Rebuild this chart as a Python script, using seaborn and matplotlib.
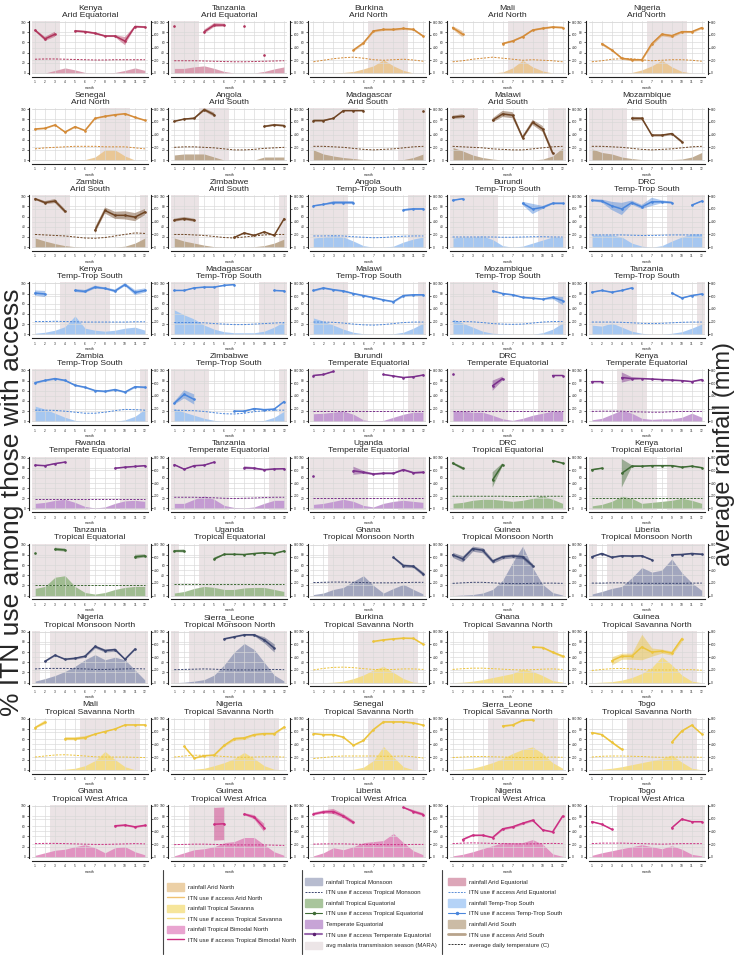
import numpy as np
import matplotlib
matplotlib.use("Agg")
import matplotlib.pyplot as plt
import seaborn as sns
from matplotlib.patches import Patch
from matplotlib.lines import Line2D

nan = np.nan
months = list(range(1, 13))
month_labels = [str(m) for m in months]

countries = [
    "Kenya", "Tanzania", "Burkina", "Mali", "Nigeria",
    "Senegal", "Angola", "Madagascar", "Malawi", "Mozambique",
    "Zambia", "Zimbabwe", "Angola", "Burundi", "DRC",
    "Kenya", "Madagascar", "Malawi", "Mozambique", "Tanzania",
    "Zambia", "Zimbabwe", "Burundi", "DRC", "Kenya",
    "Rwanda", "Tanzania", "Uganda", "DRC", "Kenya",
    "Tanzania", "Uganda", "Ghana", "Guinea", "Liberia",
    "Nigeria", "Sierra_Leone", "Burkina", "Ghana", "Guinea",
    "Mali", "Nigeria", "Senegal", "Sierra_Leone", "Togo",
    "Ghana", "Guinea", "Liberia", "Nigeria", "Togo",
]
zones = (
    ["Arid Equatorial"] * 2 + ["Arid North"] * 4 + ["Arid South"] * 6
    + ["Temp-Trop South"] * 10 + ["Temperate Equatorial"] * 6
    + ["Tropical Equatorial"] * 4 + ["Tropical Monsoon North"] * 5
    + ["Tropical Savanna North"] * 8 + ["Tropical West Africa"] * 5
)

# % ITN use among those with access (nan = no survey that month)
itn_use = [
    [84, 67, 76, nan, 82.5, 81, 78, 72.5, 72.5, 62.5, 91, 90],
    [93, nan, nan, 81, 94, 94, nan, 92, nan, 36, nan, nan],
    [nan, nan, nan, nan, 45, 59, 82.5, 85.5, 85.5, 87.5, 85.5, 72],
    [89, 76, nan, nan, nan, 57.5, 62.5, 71, 84, 87.5, 90, 89],
    [nan, 57.5, 45, 29, 26, 26, 57.5, 76, 73, 81, 81, 89],
    [61, 62.5, 69, 55, 65.5, 58, 82, 86, 89, 91, 84, 78],
    [76, 80.5, 82, 99, 89, nan, nan, nan, nan, 66, 69, 67.5],
    [77.5, 77.5, 82, 97, 97, 97, nan, nan, nan, nan, nan, 97],
    [84, 86, nan, nan, 78, 90.5, 88, 44, 74, 61, 14, nan],
    [nan, nan, nan, nan, 82, 82, 49, 49, 52, 36, nan, nan],
    [95, 87.5, 90.5, 70.5, nan, nan, 33, 72, 62.5, 62.5, 59, 69],
    [53, 56, 53, nan, nan, nan, 19, 28, 23, 30, 23, 56],
    [81, 84, 87.5, 87.5, 87.5, nan, nan, nan, nan, 73, 75, 75],
    [92, 95, nan, nan, nan, nan, nan, 86, 75, 78, 86, 86],
    [92, 90.5, 81, 75, 87.5, 79, 89, 89, 87.5, nan, 82.5, 90.5],
    [81, 79, nan, nan, 86, 84, 92.5, 90, 85, 97.5, 82, 86],
    [86, 86, 91, 92.5, 92.5, 96, 97.5, nan, nan, nan, 86, 85],
    [86, 91, 87.5, 85, 80, 76, 72, 67.5, 64, 76, 77.5, 77.5],
    [nan, nan, nan, nan, 85, 80, 77.5, 72.5, 71, 69, 72.5, 66],
    [82.5, 86, 82.5, 86, 91, nan, nan, nan, 81, 71, 76, 79],
    [76, 80.5, 84, 80.5, 71, 67, 60.5, 59, 62.5, 57.5, 68, 67],
    [35.5, 53, 43, nan, nan, nan, 20, 20, 25, 23, 24, 39],
    [90, 92, 98, nan, nan, nan, nan, 92, 89, 86, 87.5, 91],
    [92, nan, nan, nan, 70, 84, nan, nan, nan, nan, 90, 90],
    [78, 78, nan, 86, 84, 84, 83, 82, 81, 80, 78, 82],
    [85, 84, 88, 91, nan, nan, nan, nan, 79, 81, 82.5, 84],
    [86, 77, 84, 85, 91, nan, nan, 80, 79, 76, 77.5, 78],
    [64, nan, nan, nan, 74, 71, 67.5, 69, 69, 76, 70, 71],
    [89, 79, nan, nan, 56, 86, nan, nan, nan, nan, 94, 89],
    [76, 79, nan, 69, 83, 83, 84, 84, 84, 81, 83, 80],
    [84, nan, 91, 89.5, nan, nan, nan, nan, nan, nan, 76, 78],
    [87.5, 87.5, nan, nan, 72, 81, 81, 80.5, 82.5, 84, 82.5, 87.5],
    [nan, nan, nan, nan, nan, nan, nan, nan, 75, 59, 57.5, 42],
    [80, 72, 92, 89, 67.5, 76, 78, 76, 59, nan, nan, nan],
    [76, 82.5, 75, 78, 77.5, 78, 70, nan, 80, 80.5, 82.5, 81],
    [nan, 42, 54, 46, 48, 52, 71, 63, 65, 46, 66, nan],
    [nan, nan, nan, nan, nan, 86, 90, 94, 94, 84, 68, nan],
    [nan, nan, nan, nan, nan, nan, 81, 84, 86, 87.5, 87, 75],
    [nan, nan, nan, nan, nan, nan, nan, nan, 70, 69, 60, 52],
    [nan, nan, 43, 52, 52, 70, 60, 62, 58, 86, nan, nan],
    [82.5, 93, nan, 61, 61, 63, 70, 75, 80, 88, 88, 88],
    [nan, 46, 23, 27.5, 29, 48, 61, 62.5, 69, 71, 71, 84],
    [71, 69, 69, 64, 48, 57.5, 79, 94, 94, 94, 92, 87.5],
    [nan, nan, nan, nan, nan, 86, 88, 97, 98, nan, nan, nan],
    [73, 69, 54, 40, nan, nan, nan, nan, 54, 76, 87.5, 70],
    [nan, nan, nan, nan, nan, nan, nan, nan, 61, 62.5, 59, 62],
    [nan, nan, nan, nan, 64, 65, nan, 84, 78, 57, nan, nan],
    [84, 88, 89, 80, 67.5, nan, nan, nan, nan, 97, 89, 83],
    [nan, 34, 42.5, 42.5, 38, 55, 59, 66, 72, 53, 49, 80],
    [69, 64, 54, nan, nan, nan, nan, nan, 57, 74, 69, 69],
]

# half width of the confidence band around ITN use
itn_err = [
    [2, 4, 5, 0, 2, 2, 2, 2, 2, 8, 2, 2],
    [1, 0, 0, 4, 4, 3, 0, 1, 0, 1, 0, 0],
    2,
    [3, 6, 0, 0, 0, 2, 2, 2, 2, 2, 2, 2],
    [0, 3, 2, 2, 2, 2, 3, 3, 3, 2, 2, 2],
    1,
    [1, 1, 2, 3, 4, 0, 0, 0, 0, 2, 2, 2],
    [2, 2, 1, 1, 1, 1, 0, 0, 0, 0, 0, 1],
    [3, 4, 0, 0, 4, 6, 6, 4, 5, 6, 5, 0],
    [0, 0, 0, 0, 4, 3, 2, 2, 2, 3, 0, 0],
    [2, 3, 4, 4, 0, 0, 6, 6, 7, 8, 8, 6],
    [3, 3, 3, 0, 0, 0, 1, 1, 1, 1, 1, 1],
    [1, 1, 3, 3, 3, 0, 0, 0, 0, 2, 2, 2],
    [1, 1, 0, 0, 0, 0, 0, 3, 10, 3, 2, 2],
    [2, 3, 8, 12, 4, 4, 8, 3, 2, 0, 1, 1],
    [5, 6, 0, 0, 3, 3, 3, 2, 3, 3, 5, 4],
    1,
    1.5,
    [0, 0, 0, 0, 1, 1, 1, 1, 1, 1, 3, 8],
    1,
    1.5,
    [3, 8, 10, 0, 0, 0, 1, 1, 1, 1, 1, 1],
    1,
    [1, 0, 0, 0, 10, 4, 0, 0, 0, 0, 1, 1],
    [1, 1, 0, 10, 3, 1, 1, 1, 1, 1, 1, 1],
    1,
    [1, 1, 1, 1, 1, 0, 0, 3, 2, 1, 1, 1],
    [1, 0, 0, 0, 8, 3, 2, 2, 2, 2, 2, 2],
    [2, 3, 0, 0, 15, 3, 0, 0, 0, 0, 1, 1],
    [1, 1, 0, 28, 2, 1, 1, 1, 1, 1, 1, 1],
    [1, 0, 3, 3, 0, 0, 0, 0, 0, 0, 4, 3],
    [2, 3, 0, 0, 3, 1, 1, 1, 1, 1, 1, 1],
    [0, 0, 0, 0, 0, 0, 0, 0, 2, 3, 3, 4],
    [5, 6, 5, 5, 4, 4, 4, 4, 4, 0, 0, 0],
    1.5,
    [0, 1, 1, 1, 2, 2, 3, 3, 3, 1, 1, 0],
    [0, 0, 0, 0, 0, 1, 1, 1, 2, 6, 8, 0],
    1,
    [0, 0, 0, 0, 0, 0, 0, 0, 1, 1, 2, 3],
    [0, 0, 8, 6, 6, 25, 8, 4, 4, 5, 0, 0],
    [2, 4, 0, 3, 3, 3, 1, 1, 1, 1, 1, 1],
    [0, 1, 1, 1, 1, 2, 3, 3, 2, 2, 2, 1],
    1,
    [0, 0, 0, 0, 0, 2, 1, 1, 1, 0, 0, 0],
    [1, 1, 2, 2, 0, 0, 0, 0, 2, 2, 1, 1],
    1.5,
    [0, 0, 0, 0, 32, 32, 0, 2, 4, 8, 0, 0],
    [3, 3, 5, 4, 4, 0, 0, 0, 0, 1, 3, 3],
    [0, 1, 1, 1, 1, 2, 2, 2, 2, 1, 1, 1],
    1,
]

# average monthly rainfall (mm), right axis
rain_mm = [
    [0, 0, 40, 80, 48, 8, 0, 0, 8, 40, 80, 40],
    [72, 72, 96, 112, 72, 24, 0, 0, 0, 24, 64, 96],
    [0, 0, 0, 8, 24, 64, 112, 208, 112, 40, 0, 0],
    [0, 0, 0, 0, 0, 16, 80, 200, 96, 32, 0, 0],
    [0, 0, 0, 0, 8, 48, 112, 200, 96, 24, 0, 0],
    [0, 0, 0, 0, 0, 8, 48, 160, 160, 64, 0, 0],
    [80, 96, 96, 96, 48, 0, 0, 0, 0, 48, 48, 48],
    [160, 96, 64, 40, 24, 8, 0, 0, 0, 8, 40, 96],
    [200, 144, 80, 40, 16, 0, 0, 0, 0, 16, 64, 192],
    [176, 120, 96, 48, 24, 8, 0, 0, 8, 16, 48, 120],
    [144, 96, 56, 24, 8, 0, 0, 0, 0, 16, 64, 144],
    [144, 96, 64, 32, 8, 0, 0, 0, 8, 24, 64, 128],
    [144, 160, 184, 160, 96, 24, 0, 0, 16, 80, 128, 160],
    [144, 160, 160, 176, 120, 24, 0, 16, 64, 112, 160, 160],
    [192, 192, 192, 160, 64, 16, 0, 24, 96, 160, 208, 208],
    [16, 32, 64, 120, 288, 96, 64, 48, 64, 96, 112, 64],
    [384, 304, 240, 144, 80, 40, 24, 24, 24, 48, 112, 200],
    [256, 208, 144, 80, 32, 8, 0, 0, 8, 32, 96, 176],
    [240, 176, 112, 48, 16, 8, 0, 0, 0, 24, 80, 176],
    [144, 128, 176, 112, 48, 16, 0, 0, 16, 40, 96, 160],
    [240, 192, 128, 64, 16, 0, 0, 0, 0, 24, 80, 192],
    [200, 144, 96, 48, 16, 0, 0, 0, 0, 16, 64, 160],
    [120, 128, 144, 160, 112, 24, 0, 16, 64, 112, 144, 144],
    [160, 160, 144, 144, 96, 40, 16, 48, 96, 128, 160, 160],
    [24, 48, 112, 176, 128, 48, 32, 40, 40, 64, 128, 64],
    [80, 96, 128, 144, 96, 32, 8, 24, 80, 120, 128, 112],
    [80, 80, 144, 200, 144, 48, 16, 8, 24, 80, 128, 128],
    [64, 80, 112, 144, 112, 48, 24, 80, 112, 128, 112, 96],
    [80, 96, 128, 144, 144, 128, 112, 128, 160, 200, 144, 80],
    [40, 64, 112, 192, 160, 80, 96, 112, 128, 160, 128, 80],
    [112, 144, 288, 312, 144, 48, 24, 48, 96, 128, 144, 144],
    [40, 64, 112, 144, 128, 96, 96, 120, 128, 128, 96, 64],
    [16, 40, 96, 128, 224, 312, 160, 40, 112, 176, 96, 24],
    [0, 8, 16, 40, 96, 240, 520, 776, 440, 176, 48, 8],
    [24, 64, 112, 144, 280, 440, 368, 400, 576, 360, 200, 80],
    [24, 64, 112, 176, 256, 360, 440, 360, 400, 360, 200, 40],
    [0, 8, 24, 48, 120, 280, 480, 616, 520, 320, 120, 24],
    [0, 0, 8, 24, 64, 120, 200, 256, 160, 64, 8, 0],
    [0, 8, 24, 48, 80, 112, 144, 216, 176, 112, 32, 8],
    [0, 8, 16, 40, 80, 144, 240, 408, 280, 120, 24, 0],
    [0, 0, 0, 8, 24, 64, 144, 288, 160, 48, 0, 0],
    [0, 0, 8, 24, 64, 112, 176, 272, 176, 64, 8, 0],
    [0, 0, 0, 0, 8, 40, 144, 368, 200, 48, 0, 0],
    [0, 8, 24, 64, 112, 176, 256, 320, 360, 256, 112, 24],
    [0, 8, 24, 48, 80, 112, 144, 176, 232, 120, 24, 0],
    [24, 64, 104, 120, 160, 192, 144, 64, 144, 160, 80, 32],
    [16, 64, 112, 128, 160, 224, 240, 304, 304, 192, 80, 24],
    [16, 64, 144, 112, 160, 224, 240, 256, 368, 224, 96, 32],
    [16, 40, 80, 128, 176, 224, 224, 224, 272, 200, 48, 8],
    [24, 64, 96, 128, 160, 192, 160, 128, 176, 120, 40, 16],
]

# average daily temperature (C), left axis
temp_c = [
    [27, 27.5, 27.5, 27, 26.5, 26, 25.5, 25.5, 26, 26, 26, 26],
    [24, 24, 24, 23.5, 23, 22.5, 22, 22, 22.5, 23, 23.5, 24],
    [22, 25, 28, 30, 31, 29, 26, 25, 26, 27, 25.5, 23],
    [22, 24, 27, 29, 31, 29, 27, 25, 26, 25, 24, 22],
    [22, 24, 27, 28, 28, 26, 24, 25, 26, 26, 25, 23],
    [22, 24, 25, 26, 27, 27, 27, 26, 26, 26, 24, 22],
    [25, 26, 26, 25, 24, 22, 20, 20, 21, 23, 24, 25],
    [27, 27, 26, 25, 23, 21, 20, 21, 22, 24, 26, 27],
    [27, 26, 25, 24, 22, 21, 20, 20, 22, 24, 26, 27],
    [27, 27, 26, 25, 23, 21, 20, 21, 22, 24, 26, 27],
    [25, 24, 23, 22, 20, 18, 17.5, 19, 22, 25, 28, 27],
    [25, 25, 24, 23, 21, 19, 18, 20, 22, 24, 25, 25],
    [22, 22, 22.5, 22, 20.5, 19.5, 18.5, 19, 20.5, 21.5, 22, 22],
    [20, 20, 20, 20, 20, 19.5, 19.5, 20, 20.5, 20.5, 20, 20],
    [24, 24, 24, 24, 23.5, 23, 23, 23.5, 24, 24, 24, 24],
    [25, 25, 25.5, 25, 24.5, 24, 24, 24, 24, 24, 24.5, 24.5],
    [23, 23, 23, 22.5, 21, 20, 19, 19, 20, 21, 22, 23],
    [24, 24, 23.5, 22, 20, 18.5, 18, 19, 21, 23, 24, 24],
    [25, 25, 24.5, 23, 21, 20, 19.5, 20, 22, 24, 25, 25],
    [24, 24, 24, 23.5, 22.5, 21.5, 21, 21.5, 22.5, 23.5, 24, 24],
    [22, 22, 21.5, 20, 18, 16, 16, 18, 21, 23.5, 23, 22],
    [22, 21.5, 21, 19.5, 17, 15, 14.5, 16, 19, 21, 22, 22],
    [20, 20, 20, 20, 20, 20, 20, 20, 20, 20, 20, 20],
    [20.5, 20.5, 20.5, 20.5, 20.5, 20.5, 20.5, 20.5, 20.5, 20.5, 20.5, 20.5],
    [19.5, 20, 20, 20, 19, 18.5, 18, 18, 19, 19.5, 19.5, 19.5],
    [19.5, 19.5, 19.5, 19.5, 19.5, 19.5, 19.5, 19.5, 19.5, 19.5, 19.5, 19.5],
    [22, 22, 22, 21.5, 21, 20, 19.5, 20, 20.5, 21.5, 22, 22],
    [20, 20, 20, 20, 20, 20, 20, 20, 20, 20, 20, 20],
    [24, 24, 24, 24, 24, 24, 23.5, 23.5, 24, 24, 24, 24],
    [20.5, 20.5, 20.5, 20.5, 20.5, 20.5, 20.5, 20.5, 20.5, 20.5, 20.5, 20.5],
    [20.5, 20.5, 20.5, 20.5, 20.5, 20.5, 20.5, 20.5, 20.5, 20.5, 20.5, 20.5],
    [22, 22, 22, 22, 22, 22, 22, 22, 22, 22, 22, 22],
    [25.5, 26, 26.5, 26.5, 26, 25.5, 25, 25, 25, 25.5, 26, 26],
    [24, 25, 26, 26, 25, 24, 23.5, 23.5, 24, 24.5, 24.5, 24],
    [24.5, 24.5, 25, 25, 24.5, 24, 24, 24, 24, 24, 24.5, 24.5],
    [27, 28, 28, 28, 27.5, 27, 26, 26, 26.5, 27, 27.5, 27],
    [25.5, 26, 26.5, 27, 26.5, 25.5, 25, 25, 25, 25.5, 26, 25.5],
    [25, 28, 30, 30.5, 29.5, 27.5, 26, 25.5, 26, 27, 27, 26],
    [26, 27.5, 28.5, 28.5, 27.5, 26.5, 25.5, 25, 25.5, 26.5, 27, 26],
    [24, 26, 27.5, 28, 27, 25.5, 25, 25, 25, 25.5, 25.5, 24.5],
    [25, 27, 29, 29.5, 28.5, 27, 25.5, 25, 25, 25, 24.5, 24],
    [25, 27, 28.5, 28.5, 27.5, 26, 25, 24.5, 25, 25.5, 25.5, 25],
    [22, 24, 26, 27, 27, 27, 27, 26.5, 26.5, 27, 25.5, 23],
    [24, 25, 26, 26, 25.5, 25, 24.5, 24, 24, 24.5, 25, 24.5],
    [25, 26.5, 27, 27, 26.5, 26, 25, 24.5, 25, 25, 25, 24.5],
    [26, 26.5, 26.5, 26, 25.5, 25, 24.5, 24.5, 25, 25.5, 26, 25.5],
    [24, 24.5, 25, 25, 24.5, 24, 23.5, 23.5, 23.5, 23.5, 23, 22.5],
    [25, 25.5, 25.5, 25.5, 25, 24.5, 24.5, 24, 24, 24, 24.5, 24.5],
    [26, 27, 27.5, 27, 26.5, 26, 25.5, 25.5, 25.5, 26, 26.5, 26],
    [26, 27, 27, 27, 26.5, 26, 25.5, 25, 25.5, 26, 26, 26],
]

# malaria transmission season (MARA), month spans
season = [
    [(0.5, 3.5)], [(0.5, 3.5)], [(6.5, 10.5)], [(6.5, 10.5)], [(6.5, 10.5)],
    [(7.5, 10.5)], [(3.5, 6.5)], [(0.5, 5.5), (9.5, 12.5)], [(0.5, 3.5), (10.5, 12.5)], [(0.5, 4.5)],
    [(0.5, 4.5), (11.5, 12.5)], [(0.5, 3.5), (11.5, 12.5)], [(0.5, 4.5), (10.5, 12.5)],
    [(0.5, 5.5), (9.5, 12.5)], [(0.5, 6.5), (8.5, 12.5)],
    [(3.5, 8.5)], [(0.5, 5.5), (9.5, 12.5)], [(0.5, 4.5), (11.5, 12.5)],
    [(0.5, 5.5), (11.5, 12.5)], [(0.5, 5.5), (11.5, 12.5)],
    [(0.5, 4.5), (11.5, 12.5)], [(0.5, 4.5), (11.5, 12.5)], [(0.5, 6.5), (10.5, 12.5)],
    [(0.5, 6.5), (9.5, 12.5)], [(3.5, 6.5)],
    [(0.5, 6.5), (9.5, 12.5)], [(0.5, 6.5), (10.5, 12.5)], [(0.5, 6.5), (9.5, 12.5)],
    [(0.5, 12.5)], [(0.5, 7.5), (8.5, 12.5)],
    [(0.5, 6.5), (9.5, 12.5)], [(0.5, 1.5), (3.5, 12.5)], [(2.5, 12.5)],
    [(0.5, 12.5)], [(0.5, 1.5), (2.5, 12.5)],
    [(0.5, 1.5), (2.5, 12.5)], [(0.5, 1.5), (2.5, 12.5)], [(5.5, 11.5)],
    [(4.5, 11.5)], [(4.5, 11.5)],
    [(5.5, 11.5)], [(4.5, 11.5)], [(6.5, 11.5)], [(4.5, 11.5)], [(4.5, 11.5)],
    [(2.5, 12.5)], [(2.5, 12.5)], [(2.5, 12.5)], [(3.5, 12.5)], [(3.5, 12.5)],
]

line_colors = {
    "Arid Equatorial": "#b0345c",
    "Arid North": "#d48b38",
    "Arid South": "#6e4423",
    "Temp-Trop South": "#4a86dc",
    "Temperate Equatorial": "#7b2f8c",
    "Tropical Equatorial": "#3f6b35",
    "Tropical Monsoon North": "#3c4670",
    "Tropical Savanna North": "#ecc43c",
    "Tropical West Africa": "#cc2e82",
}
fill_colors = {
    "Arid Equatorial": "#d795aa",
    "Arid North": "#e9c48e",
    "Arid South": "#b9a387",
    "Temp-Trop South": "#9fc4f2",
    "Temperate Equatorial": "#c094d0",
    "Tropical Equatorial": "#98b888",
    "Tropical Monsoon North": "#9aa0ba",
    "Tropical Savanna North": "#f4dc80",
    "Tropical West Africa": "#e08abd",
}
season_color = "#ebe3e5"

sns.set_theme(style="whitegrid")
plt.rcParams["font.family"] = ["Liberation Sans", "DejaVu Sans"]

W, H = 737, 956
fig = plt.figure(figsize=(W / 100, H / 100), dpi=100)

for k in range(len(countries)):
    r, c = divmod(k, 5)
    zone = zones[k]
    lc, fc = line_colors[zone], fill_colors[zone]
    ax = fig.add_axes([(32 + c * 139.2) / W, 1 - (74 + r * 87.1) / H, 116 / W, 53 / H])
    ax2 = ax.twinx()
    ax.set_zorder(ax2.get_zorder() + 1)
    ax.patch.set_visible(False)

    for a, b in season[k]:
        ax2.axvspan(a, b, color=season_color, lw=0, zorder=0)
    ax2.fill_between(months, rain_mm[k], color=fc, alpha=0.9, lw=0, zorder=1)

    y = np.array(itn_use[k], dtype=float)
    e = itn_err[k]
    e = np.full(12, float(e)) if np.isscalar(e) else np.array(e, dtype=float)
    ax.fill_between(months, y - e, y + e, color=lc, alpha=0.45, lw=0)
    ax.plot(months, y, color=lc, lw=1.1, marker="o", ms=0.9)
    sns.lineplot(x=months, y=temp_c[k], ax=ax, color=lc, lw=0.7, linestyle=(0, (2.2, 1.4)))

    ax.set_xlim(0.7, 12.3)
    ax.set_ylim(-2, 102)
    ax2.set_ylim(-16, 816)
    ax.set_xticks(months)
    ax.set_xticklabels(month_labels)
    ax.set_yticks([0, 20, 40, 60, 80, 100])
    ax2.set_yticks([0, 200, 400, 600, 800])
    ax.set_xlabel("month", fontsize=2.5, labelpad=1)
    ax.set_ylabel("")
    ax.set_title(f"{countries[k]}\n{zone}", fontsize=6.1, pad=3, linespacing=1.05)

    for a in (ax, ax2):
        a.tick_params(labelsize=2.3, length=1.5, width=0.5, pad=1, colors="#222222")
        a.grid(True, color="#d8d8d8", lw=0.45)
        for s in a.spines.values():
            s.set_visible(False)
    ax2.grid(False, axis="x")
    for s in ("left", "bottom"):
        ax.spines[s].set_visible(True)
        ax.spines[s].set_color("#222222")
        ax.spines[s].set_linewidth(0.8)
        ax.spines[s].set_position(("outward", 2))
    ax2.spines["right"].set_visible(True)
    ax2.spines["right"].set_color("#222222")
    ax2.spines["right"].set_linewidth(0.8)
    ax2.spines["right"].set_position(("outward", 2))
    ax.tick_params(axis="y", right=False)

fig.text(0.016, 0.475, "% ITN use among those with access", rotation=90,
         ha="center", va="center", fontsize=19)
fig.text(0.983, 0.525, "average rainfall (mm)", rotation=90,
         ha="center", va="center", fontsize=17)

leg_kw = dict(frameon=False, fontsize=4.3, handlelength=2.85, handleheight=1.5,
              labelspacing=0.55, handletextpad=0.6, borderpad=0, borderaxespad=0,
              loc="center left")
col1 = [
    (Patch(color="#ecd0a6"), "rainfall Arid North"),
    (Line2D([], [], color="#f0c271", lw=1), "ITN use if access Arid North"),
    (Patch(color="#f6e59a"), "rainfall Tropical Savanna"),
    (Line2D([], [], color="#f3dc84", lw=1), "ITN use if access Tropical Savanna"),
    (Patch(color="#e9a4d0"), "rainfall Tropical Bimodal North"),
    (Line2D([], [], color="#cc2e82", lw=1), "ITN use if access Tropical Bimodal North"),
]
col2 = [
    (Patch(color="#b7bccf"), "rainfall Tropical Monsoon"),
    (Line2D([], [], color="#3c4670", lw=0.7, ls=(0, (2, 1.2))), "ITN use if access Tropical Monsoon"),
    (Patch(color="#a9c59c"), "rainfall Tropical Equatorial"),
    (Line2D([], [], color="#3f6b35", lw=0.8, marker="o", ms=1.5), "ITN use if access Tropical Equatorial"),
    (Patch(color="#c7a4d6"), "Temperate Equatorial"),
    (Line2D([], [], color="#9a6aae", lw=1.5, marker="o", ms=1.5, mfc="#5a2070", mec="#5a2070"),
     "ITN use if access Temperate Equatorial"),
    (Patch(color="#ece5e7"), "avg malaria transmission season (MARA)"),
]
col3 = [
    (Patch(color="#dca6b8"), "rainfall Arid Equatorial"),
    (Line2D([], [], color="#5b8ed6", lw=0.7, ls=(0, (2, 1.2))), "ITN use if access Arid Equatorial"),
    (Patch(color="#b5d3f7"), "rainfall Temp-Trop South"),
    (Line2D([], [], color="#4a86dc", lw=0.8, marker="o", ms=1.5), "ITN use if access Temp-Trop South"),
    (Patch(color="#cbbba5"), "rainfall Arid South"),
    (Line2D([], [], color="#b8a48c", lw=2), "ITN use if access Arid South"),
    (Line2D([], [], color="#333333", lw=0.7, ls=(0, (2, 1.2))), "average daily temperature (C)"),
]
for items, x0 in ((col1, 167), (col2, 305), (col3, 448)):
    hs, ls = zip(*items)
    fig.legend(hs, ls, bbox_to_anchor=(x0 / W, 1 - 913.5 / H), **leg_kw)
for xs in (163, 302, 442):
    fig.add_artist(Line2D([xs / W, xs / W], [1 - 870 / H, 1 - 954 / H],
                          color="#444444", lw=0.8, transform=fig.transFigure))

fig.savefig("out.png", dpi=100)
